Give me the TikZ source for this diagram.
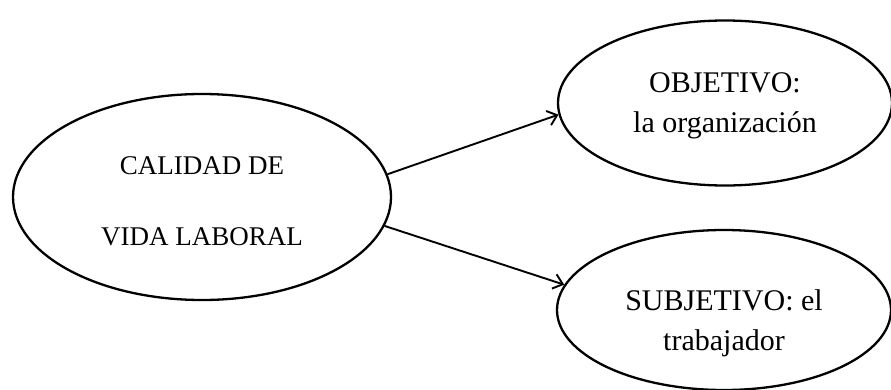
\documentclass[tikz,border=0pt]{standalone}
\usepackage{fontspec}
\setmainfont{Liberation Serif}
\usetikzlibrary{shapes.geometric,arrows.meta}
\tikzset{
    bubble/.style={ellipse,draw,line width=2.3pt,inner sep=0pt,align=center},
    bigtext/.style={font=\fontsize{27}{71}\selectfont},
    smalltext/.style={font=\fontsize{30}{40}\selectfont},
    directed/.style={arrows={-Straight Barb[length=9pt,width=15pt]},line width=1.9pt},
    }

\begin{document}
\begin{tikzpicture}[x=1pt,y=-1pt]
    \useasboundingbox (0,0) rectangle (891,389);
		\node[bubble,bigtext,minimum width=378pt,minimum height=206pt,text height=96pt,text depth=0pt] (calidad) at (202,197) {CALIDAD DE\\VIDA LABORAL};
		\node[bubble,smalltext,minimum width=334pt,minimum height=165pt,text height=60pt,text depth=2pt] (objetivo) at (725,103) {OBJETIVO:\\la organización};
		\node[bubble,smalltext,minimum width=334pt,minimum height=160pt,text height=80pt,text depth=0pt] (subjetivo) at (724,310) {SUBJETIVO: el\\trabajador};

	\draw[directed] (calidad.7) to (objetivo.184);
	\draw[directed] (calidad.-9) to (subjetivo.171);
\end{tikzpicture}
\end{document}
